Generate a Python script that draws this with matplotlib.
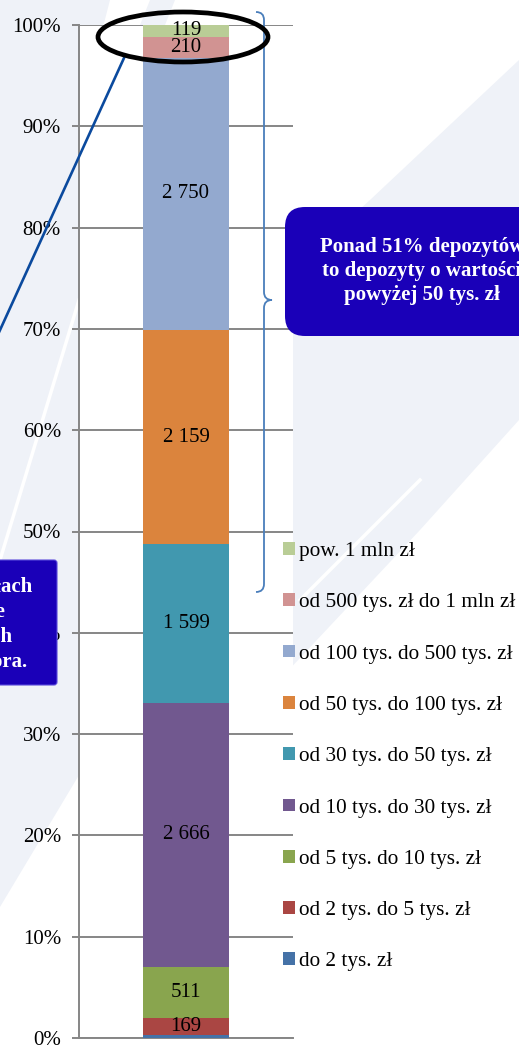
import matplotlib
matplotlib.use("Agg")
import matplotlib.pyplot as plt
from matplotlib.patches import Ellipse, FancyBboxPatch, Polygon, PathPatch
from matplotlib.path import Path
from matplotlib.lines import Line2D
from matplotlib.transforms import IdentityTransform
from matplotlib.ticker import PercentFormatter

# ---------------- data (bottom to top) ----------------
categories = ["do 2 tys. zł", "od 2 tys. do 5 tys. zł", "od 5 tys. do 10 tys. zł",
              "od 10 tys. do 30 tys. zł", "od 30 tys. do 50 tys. zł",
              "od 50 tys. do 100 tys. zł", "od 100 tys. do 500 tys. zł",
              "od 500 tys. zł do 1 mln zł", "pow. 1 mln zł"]
values = [35, 169, 511, 2666, 1599, 2159, 2750, 210, 119]
show_label = [False, True, True, True, True, True, True, True, True]
colors = ["#4572A7", "#AA4643", "#89A54E", "#71588F", "#4198AF",
          "#DB843D", "#93A9CF", "#D19392", "#B9CD96"]
yticks = [i / 10 for i in range(11)]

right_box_lines = ["Ponad 51% depozytów", "to depozyty o wartości", "powyżej 50 tys. zł"]
left_box_lines = ["w przedziałach", "kwotowe", "gwarantowanych", "dla depozytora."]

W, H = 519, 1047
plt.rcParams['font.family'] = ['Liberation Serif', 'DejaVu Serif']
fig = plt.figure(figsize=(W / 100, H / 100), dpi=100)
fig.patch.set_facecolor("white")

def fx(x): return x / W
def fy(y): return 1 - y / H

# ---------------- faint background bands ----------------
band_col = "#EFF2F8"
bands = [
    [(0, 907), (100, 740), (270, 690), (420, 530), (519, 420), (519, 60),
     (370, 200), (293, 270), (79, 120), (110, 0), (0, 0)],
    [(140, 25), (150, 0), (175, 0), (165, 25)],
]
for b in bands:
    fig.add_artist(Polygon([(fx(x), fy(y)) for x, y in b], closed=True,
                           transform=fig.transFigure, facecolor=band_col,
                           edgecolor="none", zorder=-5))
stripes = [[(0, 560), (79, 300)], [(0, 1000), (79, 880)], [(300, 600), (420, 480)]]
for s in stripes:
    fig.add_artist(Line2D([fx(p[0]) for p in s], [fy(p[1]) for p in s],
                          transform=fig.transFigure, color="white", lw=2.5, zorder=-4))

# ---------------- axes ----------------
ax_left, ax_right, ax_top, ax_bot = 79, 293, 25, 1038
ax = fig.add_axes([fx(ax_left), fy(ax_bot), (ax_right - ax_left) / W, (ax_bot - ax_top) / H])
ax.set_facecolor("white")

total = sum(values)
bottom = 0.0
bars = []
for cat, v, c, lab in zip(categories, values, colors, show_label):
    frac = v / total
    b = ax.bar(0, frac, width=0.4, bottom=bottom, color=c, label=cat, zorder=3)
    bars.append(b)
    if lab:
        ax.text(0, bottom + frac / 2, f"{v:,}".replace(",", " "), ha="center", va="center",
                fontsize=15, color="black", zorder=4)
    bottom += frac

ax.set_xlim(-0.5, 0.5)
ax.set_ylim(0, 1)
ax.set_yticks(yticks)
ax.yaxis.set_major_formatter(PercentFormatter(1.0, decimals=0))
ax.set_xticks([])
ax.grid(axis="y", color="#868686", lw=1.4, zorder=1)
for sp in ["top", "right"]:
    ax.spines[sp].set_visible(False)
for sp in ["left", "bottom"]:
    ax.spines[sp].set_color("#868686")
    ax.spines[sp].set_linewidth(1.4)
ax.tick_params(axis="y", length=5, width=1.4, color="#868686", pad=8, labelsize=15)

# legend (reverse order)
handles = [b.patches[0] for b in bars][::-1]
labels = categories[::-1]
fig.legend(handles, labels, loc="upper left", bbox_to_anchor=(fx(283), fy(542)),
           frameon=False, fontsize=15.3, handlelength=0.55, handleheight=0.55,
           handletextpad=0.2, labelspacing=1.52, borderpad=0, borderaxespad=0)

# ---------------- annotations ----------------
fig.add_artist(Ellipse((fx(183), fy(37)), 170 / W, 50 / H, transform=fig.transFigure,
                       fill=False, edgecolor="black", lw=3.4, zorder=10))
fig.add_artist(Line2D([fx(124), fx(-10)], [fy(58), fy(352)], transform=fig.transFigure,
                      color="#0B4A9E", lw=1.9, zorder=9))

verts = [(256, 12), (264, 12), (264, 20),
         (264, 292), (264, 300), (272, 300),
         (264, 300), (264, 308),
         (264, 584), (264, 592), (256, 592)]
codes = [Path.MOVETO, Path.CURVE3, Path.CURVE3,
         Path.LINETO, Path.CURVE3, Path.CURVE3,
         Path.CURVE3, Path.CURVE3,
         Path.LINETO, Path.CURVE3, Path.CURVE3]
path = Path([(fx(x), fy(y)) for x, y in verts], codes)
fig.add_artist(PathPatch(path, transform=fig.transFigure, fill=False,
                         edgecolor="#4A7EBB", lw=1.3, zorder=9))

box_col = "#1A00B8"
fig.add_artist(FancyBboxPatch((285, H - 336), 280, 129,
                              boxstyle="round,pad=0,rounding_size=20",
                              transform=IdentityTransform(), facecolor=box_col,
                              edgecolor="none", zorder=10))
for i, line in enumerate(right_box_lines):
    fig.text(fx(422), fy(247 + 24 * i), line, ha="center", va="center", color="white",
             fontsize=15, fontweight="bold", zorder=11)

fig.add_artist(FancyBboxPatch((-40, H - 685), 97, 125,
                              boxstyle="round,pad=0,rounding_size=3",
                              transform=IdentityTransform(), facecolor=box_col,
                              edgecolor="#5A4ADB", lw=0.8, zorder=10))
left_right_edges = [32, 5, 13, 27]
for i, (line, xr) in enumerate(zip(left_box_lines, left_right_edges)):
    fig.text(fx(xr), fy(587 + 25 * i), line, ha="right", va="center", color="white",
             fontsize=15, fontweight="bold", zorder=11)

fig.savefig("out.png", dpi=100)
